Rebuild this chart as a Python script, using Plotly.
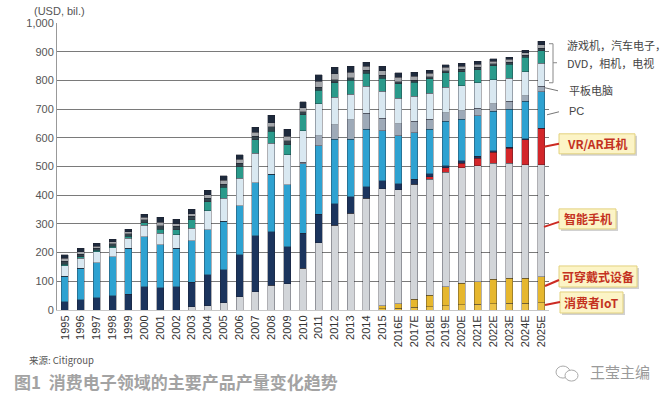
import plotly.graph_objects as go

years = ["1995","1996","1997","1998","1999","2000","2001","2002","2003","2004",
         "2005","2006","2007","2008","2009","2010","2011","2012","2013","2014",
         "2015","2016E","2017E","2018E","2019E","2020E","2021E","2022E","2023E","2024E","2025E"]

iot        = [0,0,0,0,0,0,0,0,0,0, 0,0,0,0,0,0,0,0,0,0, 4,6,9,12,15,18,20,22,23,24,25]
wearable   = [0,0,0,0,0,0,0,0,0,0, 0,0,0,0,0,0,0,0,0,0, 10,15,28,40,66,75,79,85,87,86,91]
smartphone = [0,0,0,0,0,0,0,0,12,15, 25,46,64,87,91,145,235,296,337,390, 409,398,401,404,399,403,403,405,402,396,390]
vrar       = [0,0,0,0,0,0,0,0,0,0, 0,0,0,0,0,0,0,0,0,0, 0,0,0,9,16,16,27,38,52,87,128]
feature    = [28,35,43,49,55,81,78,81,85,107, 115,146,195,186,130,122,99,74,58,40, 27,21,18,9,6,8,6,5,3,4,0]
pc         = [90,110,122,137,160,175,149,134,144,157, 170,171,185,200,215,242,238,225,200,200, 175,167,162,156,155,145,142,137,133,130,127]
tablet     = [0,0,0,0,0,0,0,0,0,0, 0,0,0,0,0,5,35,50,68,56, 44,42,39,35,31,30,26,26,27,20,18]
tv         = [37,35,38,31,35,40,40,47,44,67, 80,96,103,108,105,111,112,97,89,93, 93,89,87,91,89,87,88,84,81,84,81]
camera     = [5,5,5,6,7,8,14,17,29,32, 37,41,46,41,35,55,46,49,48,46, 46,50,49,49,49,49,46,49,49,49,44]
dvd        = [10,10,8,8,8,10,12,12,12,12, 12,12,12,16,14,10,12,12,10,10, 10,8,8,8,8,8,8,7,7,7,8]
car        = [10,8,7,7,8,10,12,10,10,12, 13,14,14,15,15,15,20,20,18,14, 15,15,14,12,11,11,11,9,9,9,12]
game       = [12,12,9,8,8,10,18,16,15,16, 15,15,18,25,25,20,23,22,21,15, 16,15,13,10,10,10,10,8,8,9,12]

series = [
    ("消费者IoT", iot, "#ecc246"),
    ("可穿戴式设备", wearable, "#e6b72e"),
    ("智能手机", smartphone, "#d2d5d9"),
    ("VR/AR耳机", vrar, "#d3262a"),
    ("功能手机", feature, "#1b345d"),
    ("PC", pc, "#2ea2d1"),
    ("平板电脑", tablet, "#9eaab8"),
    ("电视", tv, "#d9e8f1"),
    ("相机", camera, "#2a9a8b"),
    ("DVD", dvd, "#34444c"),
    ("汽车电子", car, "#a3a6aa"),
    ("游戏机", game, "#1e2a3c"),
]

FONT = "Liberation Sans, Arial, Noto Sans CJK SC, sans-serif"
CJK = "Noto Sans CJK SC, Liberation Sans, sans-serif"

fig = go.Figure()
for name, vals, color in series:
    fig.add_bar(x=years, y=vals, name=name,
                marker=dict(color=color, line=dict(color="rgba(30,30,40,0.7)", width=0.5)))

L, R, T, B = 57, 549, 23.3, 310.0
def X(px):
    return (px - L) / (R - L)
def Y(py):
    return (B - py) / (B - T)

shapes = []
annotations = []

def line(x0, y0, x1, y1, color="#888", width=1):
    shapes.append(dict(type="line", xref="paper", yref="paper",
                       x0=X(x0), y0=Y(y0), x1=X(x1), y1=Y(y1),
                       line=dict(color=color, width=width)))

def text(px, py, s, size=12, color="#444", bold=False, family=CJK, xanchor="left"):
    annotations.append(dict(xref="paper", yref="paper", x=X(px), y=Y(py),
                            text=("<b>%s</b>" % s) if bold else s, showarrow=False,
                            xanchor=xanchor, yanchor="middle",
                            font=dict(size=size, color=color, family=family)))

# bracket for the top group
line(549, 44, 553, 44)
line(553, 44, 553, 83)
line(549, 83, 553, 83)
line(553, 63, 557, 63)
text(565, 45, "游戏机，汽车电子，", 11, "#444")
text(565, 63, "DVD，相机，电视", 11, "#444")

line(545, 88, 558, 91, "#777")
text(567, 90, "平板电脑", 11, "#444")
line(547, 115, 559, 112, "#777")
text(567, 111, "PC", 11, "#444", family=FONT)

def box(x0, y0, x1, y1, s, lx0, ly0, lx1, ly1):
    shapes.append(dict(type="rect", xref="paper", yref="paper",
                       x0=X(x0 + 2), y0=Y(y1 + 2), x1=X(x1 + 2), y1=Y(y0 + 2),
                       fillcolor="rgba(0,0,0,0.18)", line=dict(width=0)))
    shapes.append(dict(type="rect", xref="paper", yref="paper",
                       x0=X(x0), y0=Y(y1), x1=X(x1), y1=Y(y0),
                       fillcolor="#fcf4c6", line=dict(color="#e3d27e", width=1)))
    line(lx0, ly0, lx1, ly1, "#cc2a22", 2)
    text((x0 + x1) / 2, (y0 + y1) / 2, s, 12, "#c4321f", bold=True, xanchor="center")

box(559, 134, 635, 154, "VR/AR耳机", 544, 147, 559, 144)
box(559, 209, 616, 229, "智能手机", 544, 227, 559, 222)
box(559, 266, 637, 287, "可穿戴式设备", 545, 286, 559, 280)
box(560, 292, 623, 313, "消费者IoT", 545, 305, 560, 302)

text(32, 11, "(USD, bil.)", 11, "#555", family=FONT)
text(27, 360, "来源: Citigroup", 9.5, "#555")
text(12, 381, "图1  消费电子领域的主要产品产量变化趋势", 17, "#a3a3a3", bold=True)
text(588, 371, "王莹主编", 15, "#9a9a9a")
shapes.append(dict(type="circle", xref="paper", yref="paper",
                   x0=X(556), y0=Y(378), x1=X(570), y1=Y(366),
                   line=dict(color="#aaa", width=1)))
shapes.append(dict(type="circle", xref="paper", yref="paper",
                   x0=X(565), y0=Y(381), x1=X(578), y1=Y(370),
                   line=dict(color="#aaa", width=1), fillcolor="white"))

fig.update_layout(
    width=667, height=398,
    margin=dict(l=L, r=667 - R, t=T, b=398 - B, pad=0),
    barmode="stack", bargap=0.56,
    showlegend=False,
    plot_bgcolor="white", paper_bgcolor="white",
    font=dict(family=FONT, color="#444", size=11),
    shapes=shapes, annotations=annotations,
    xaxis=dict(type="category", tickangle=-90, showgrid=False,
               showline=True, linecolor="#c8c8c8", linewidth=1,
               tickfont=dict(size=11, color="#333", family=FONT), ticks=""),
    yaxis=dict(range=[0, 1000], dtick=100, tickformat=",",
               showgrid=True, gridcolor="#7a7a7a", gridwidth=1,
               zeroline=False, showline=True, linecolor="#999", linewidth=1,
               ticks="", tickfont=dict(size=11, color="#555", family=FONT)),
)

fig.write_html("out.html", config={"displayModeBar": False},
               post_script="document.body.style.margin='0';document.body.style.overflow='hidden';")
